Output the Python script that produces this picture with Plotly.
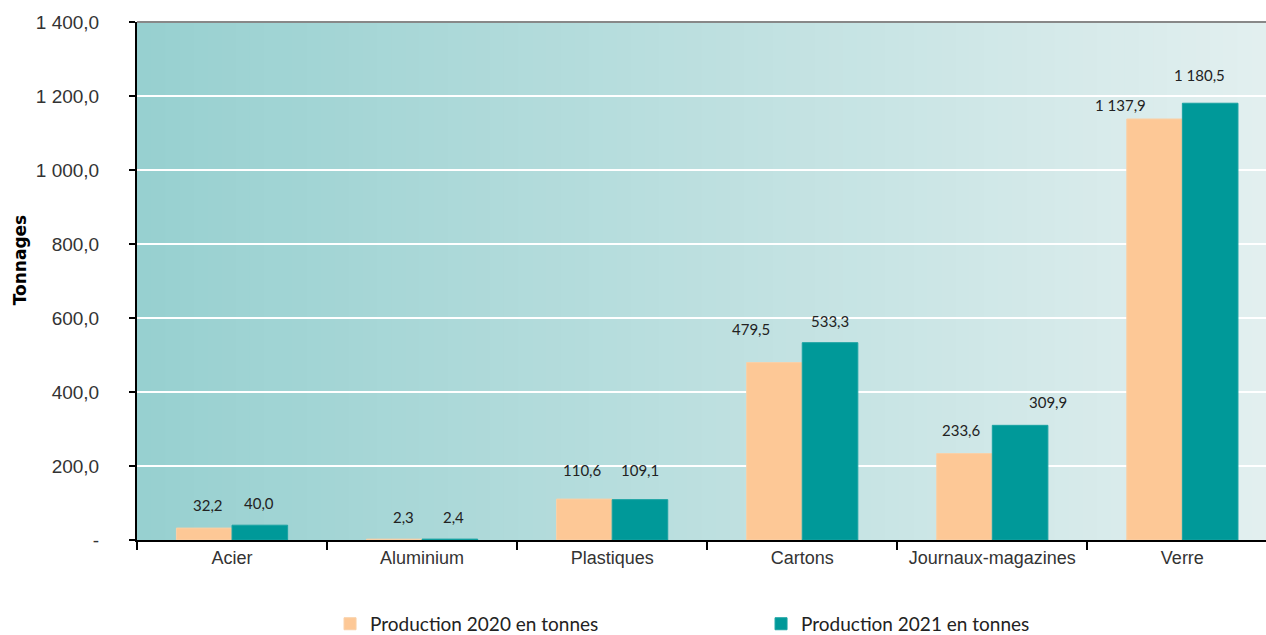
import plotly.graph_objects as go

categories = ["Acier", "Aluminium", "Plastiques", "Cartons", "Journaux-magazines", "Verre"]
prod_2020 = [32.2, 2.3, 110.6, 479.5, 233.6, 1137.9]
prod_2021 = [40.0, 2.4, 109.1, 533.3, 309.9, 1180.5]
labels_2020 = ["32,2", "2,3", "110,6", "479,5", "233,6", "1 137,9"]
labels_2021 = ["40,0", "2,4", "109,1", "533,3", "309,9", "1 180,5"]
series_names = ["Production 2020 en tonnes", "Production 2021 en tonnes"]
y_title = "Tonnages"
y_tickvals = [0, 200, 400, 600, 800, 1000, 1200, 1400]
y_ticktext = ["-", "200,0", "400,0", "600,0", "800,0", "1 000,0", "1 200,0", "1 400,0"]

# label offsets (pixels) relative to bar centre / bar top
lbl_dx_2020 = [4, 9, -2, -23, -3, -34]
lbl_dy_2020 = [23, 22, 29, 34, 24, 14]
lbl_dx_2021 = [-1, 3, 0, 0, 28, -11]
lbl_dy_2021 = [22, 22, 30, 22, 23, 28]

C2020 = "#FDC896"
C2021 = "#009999"

fig = go.Figure()
fig.add_trace(go.Bar(x=categories, y=prod_2020, name=series_names[0],
                     marker=dict(color=C2020, line=dict(color="#F9D0A8", width=1))))
fig.add_trace(go.Bar(x=categories, y=prod_2021, name=series_names[1],
                     marker=dict(color=C2021, line=dict(color="#1AA3A3", width=1))))

BAR_HALF_PX = 28
for i, c in enumerate(categories):
    fig.add_annotation(x=c, y=prod_2020[i], text=labels_2020[i], showarrow=False,
                       xshift=-BAR_HALF_PX + lbl_dx_2020[i], yshift=lbl_dy_2020[i],
                       font=dict(family="Lato", size=15, color="#222222"))
    fig.add_annotation(x=c, y=prod_2021[i], text=labels_2021[i], showarrow=False,
                       xshift=BAR_HALF_PX + lbl_dx_2021[i], yshift=lbl_dy_2021[i],
                       font=dict(family="Lato", size=15, color="#222222"))

# y-axis title placed as rotated annotation (slightly above centre, as in the reference)
fig.add_annotation(xref="paper", yref="paper", x=0, y=0.54, xshift=-117,
                   xanchor="center", yanchor="middle",
                   text="<b>%s</b>" % y_title, textangle=-90, showarrow=False,
                   font=dict(family="DejaVu Sans", size=17, color="black"))

# gradient background via thin strips
n = 80
c0 = (151, 208, 208)
c1 = (226, 239, 239)
shapes = []
for k in range(n):
    t = k / (n - 1)
    col = tuple(round(c0[j] + (c1[j] - c0[j]) * t) for j in range(3))
    shapes.append(dict(type="rect", xref="x domain", yref="y domain",
                       x0=k / n, x1=(k + 1) / n + 0.002, y0=0, y1=1,
                       fillcolor="rgb(%d,%d,%d)" % col, line=dict(width=0), layer="below"))
shapes.append(dict(type="line", xref="x domain", yref="y domain", x0=0, x1=1, y0=1, y1=1,
                   line=dict(color="#888888", width=2), layer="above"))

fig.update_layout(
    width=1266, height=635,
    margin=dict(l=137, r=0, t=22, b=95),
    paper_bgcolor="white",
    plot_bgcolor="#BFE0E0",
    barmode="group",
    bargap=0.415,
    bargroupgap=0,
    shapes=shapes,
    showlegend=True,
    legend=dict(orientation="h", xref="container", yref="container",
                x=0.2607, xanchor="left", y=0.0175, yanchor="middle",
                font=dict(family="Lato", size=19, color="#222222"),
                itemwidth=30, entrywidth=386, traceorder="normal"),
    font=dict(family="Liberation Sans", color="#333333"),
)
fig.update_xaxes(
    range=[-0.5, 5.44], automargin=False,
    showline=True, linecolor="black", linewidth=2,
    ticks="outside", tickson="boundaries", ticklen=8, tickwidth=2, tickcolor="black",
    tickfont=dict(family="Liberation Sans", size=18, color="#333333"),
    tickangle=0,
    showgrid=False,
)
fig.update_yaxes(
    range=[0, 1400], automargin=False,
    tickvals=y_tickvals, ticktext=y_ticktext,
    showline=True, linecolor="black", linewidth=2,
    ticks="outside", ticklen=6, tickwidth=2, tickcolor="black",
    ticklabelstandoff=26,
    tickfont=dict(family="Liberation Sans", size=19, color="#333333"),
    showgrid=True, gridcolor="white", gridwidth=2,
    zeroline=False,
)

fig.write_html("out.html", config={"displayModeBar": False},
               post_script="document.body.style.margin='0';document.body.style.overflow='hidden';")
